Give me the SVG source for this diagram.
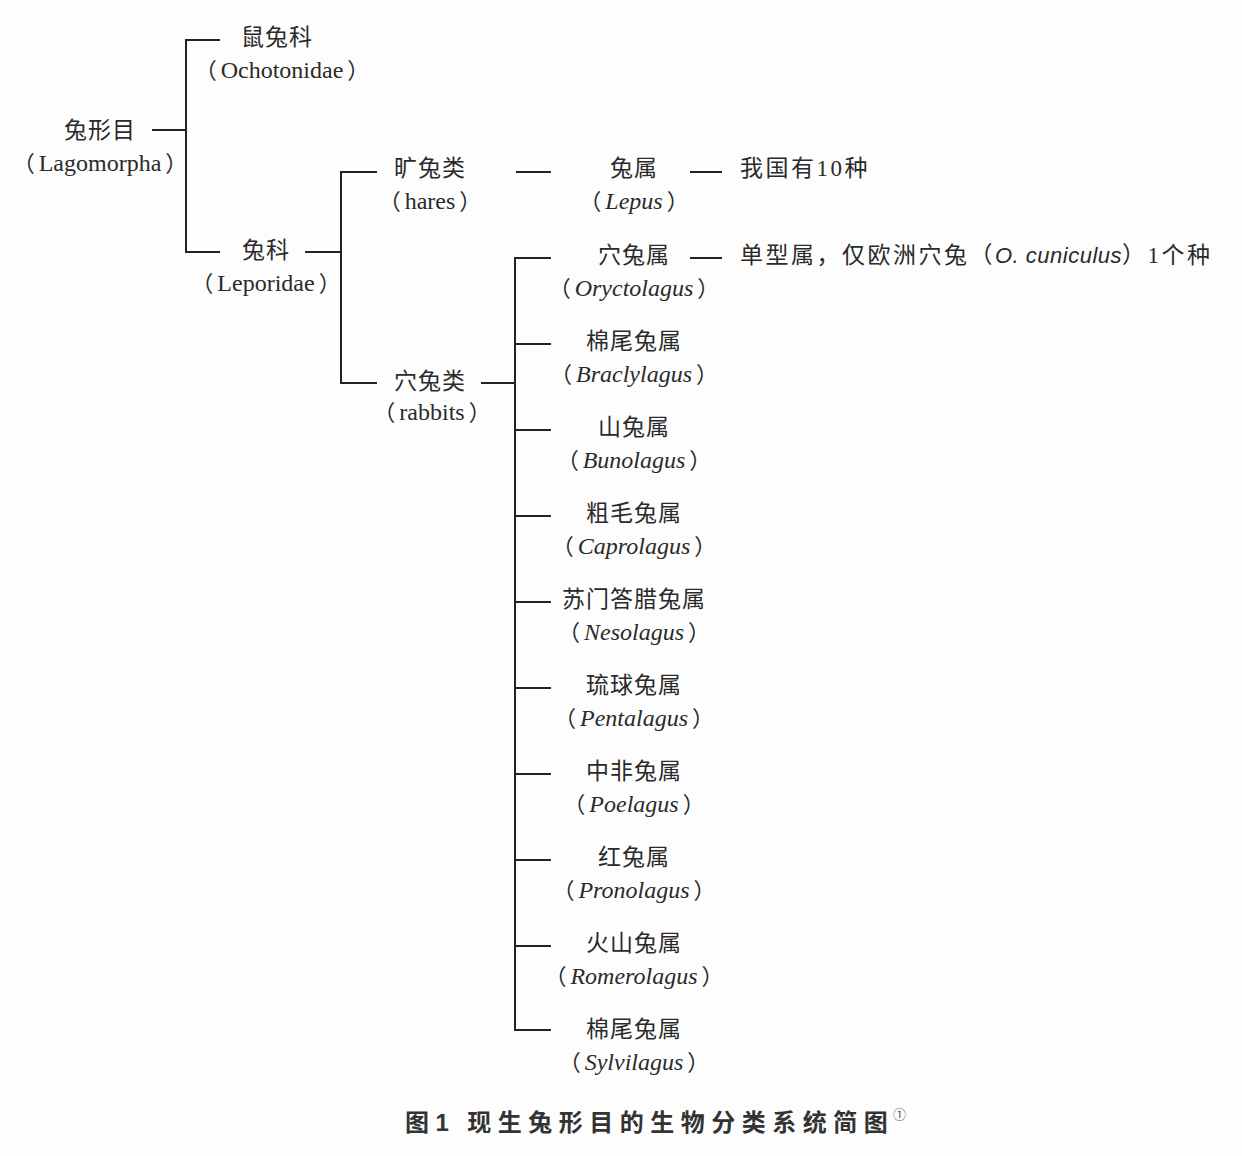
<svg xmlns="http://www.w3.org/2000/svg" width="1242" height="1156" viewBox="0 0 1242 1156">
<style>
text{text-spacing-trim:space-all}
.zh{font-family:"Noto Sans CJK SC","Noto Sans",sans-serif;font-size:23px;fill:#2a2a2a;text-anchor:middle;letter-spacing:1px}
.la{font-family:"Liberation Serif","Noto Sans CJK SC",serif;font-size:24px;fill:#2a2a2a;text-anchor:middle}
.p{font-family:"Noto Sans CJK SC",sans-serif;font-size:22px}
.it{font-style:italic}
.note{font-family:"Noto Sans CJK SC",sans-serif;font-size:23px;fill:#2a2a2a;letter-spacing:2.5px}
.cap{font-family:"Noto Sans CJK SC","Noto Sans",sans-serif;font-size:24px;font-weight:bold;fill:#333;letter-spacing:6.5px}
.ln{stroke:#222;stroke-width:2;fill:none}
</style>
<rect width="1242" height="1156" fill="#fdfdfd"/>
<g id="connectors">
<path class="ln" d="M152 130H186M220 40H186V252H220"/>
<path class="ln" d="M305 252H341M377 172H341V383H377"/>
<path class="ln" d="M516 172H551M690 172H722"/>
<path class="ln" d="M481 383H515M551 258H515V1030H551"/>
<path class="ln" d="M515 344H551M515 430H551M515 516H551M515 602H551M515 688H551M515 774H551M515 860H551M515 946H551"/>
<path class="ln" d="M690 258H722"/>
</g>
<g id="order"><text class="zh" x="100" y="138">兔形目</text><text class="la" x="100" y="171"><tspan class="p">（</tspan><tspan dx="4">Lagomorpha</tspan><tspan class="p" dx="4">）</tspan></text></g>
<g id="ochotonidae"><text class="zh" x="277" y="45">鼠兔科</text><text class="la" x="282" y="78"><tspan class="p">（</tspan><tspan dx="4">Ochotonidae</tspan><tspan class="p" dx="4">）</tspan></text></g>
<g id="leporidae"><text class="zh" x="266" y="258">兔科</text><text class="la" x="266" y="291"><tspan class="p">（</tspan><tspan dx="4">Leporidae</tspan><tspan class="p" dx="4">）</tspan></text></g>
<g id="hares"><text class="zh" x="430" y="176">旷兔类</text><text class="la" x="430" y="209"><tspan class="p">（</tspan><tspan dx="4">hares</tspan><tspan class="p" dx="4">）</tspan></text></g>
<g id="rabbits"><text class="zh" x="430" y="389">穴兔类</text><text class="la" x="432" y="420"><tspan class="p">（</tspan><tspan dx="4">rabbits</tspan><tspan class="p" dx="4">）</tspan></text></g>
<g id="lepus"><text class="zh" x="634" y="176">兔属</text><text class="la" x="634" y="209"><tspan class="p">（</tspan><tspan class="it" dx="4">Lepus</tspan><tspan class="p" dx="4">）</tspan></text></g>
<g id="lepus-note"><text class="note" x="740" y="176">我国有<tspan font-family="Liberation Serif" font-size="23">10</tspan>种</text></g>
<g id="oryctolagus"><text class="zh" x="634" y="263">穴兔属</text><text class="la" x="634" y="296"><tspan class="p">（</tspan><tspan class="it" dx="4">Oryctolagus</tspan><tspan class="p" dx="4">）</tspan></text></g>
<g id="oryctolagus-note"><text class="note" x="740" y="263">单型属，仅欧洲穴兔（<tspan font-family="Liberation Sans" font-style="italic" font-size="22" letter-spacing="0.5">O. cuniculus</tspan>）<tspan font-family="Liberation Serif" font-size="23">1</tspan>个种</text></g>
<g id="brachylagus"><text class="zh" x="634" y="349">棉尾兔属</text><text class="la" x="634" y="382"><tspan class="p">（</tspan><tspan class="it" dx="4">Braclylagus</tspan><tspan class="p" dx="4">）</tspan></text></g>
<g id="bunolagus"><text class="zh" x="634" y="435">山兔属</text><text class="la" x="634" y="468"><tspan class="p">（</tspan><tspan class="it" dx="4">Bunolagus</tspan><tspan class="p" dx="4">）</tspan></text></g>
<g id="caprolagus"><text class="zh" x="634" y="521">粗毛兔属</text><text class="la" x="634" y="554"><tspan class="p">（</tspan><tspan class="it" dx="4">Caprolagus</tspan><tspan class="p" dx="4">）</tspan></text></g>
<g id="nesolagus"><text class="zh" x="634" y="607">苏门答腊兔属</text><text class="la" x="634" y="640"><tspan class="p">（</tspan><tspan class="it" dx="4">Nesolagus</tspan><tspan class="p" dx="4">）</tspan></text></g>
<g id="pentalagus"><text class="zh" x="634" y="693">琉球兔属</text><text class="la" x="634" y="726"><tspan class="p">（</tspan><tspan class="it" dx="4">Pentalagus</tspan><tspan class="p" dx="4">）</tspan></text></g>
<g id="poelagus"><text class="zh" x="634" y="779">中非兔属</text><text class="la" x="634" y="812"><tspan class="p">（</tspan><tspan class="it" dx="4">Poelagus</tspan><tspan class="p" dx="4">）</tspan></text></g>
<g id="pronolagus"><text class="zh" x="634" y="865">红兔属</text><text class="la" x="634" y="898"><tspan class="p">（</tspan><tspan class="it" dx="4">Pronolagus</tspan><tspan class="p" dx="4">）</tspan></text></g>
<g id="romerolagus"><text class="zh" x="634" y="951">火山兔属</text><text class="la" x="634" y="984"><tspan class="p">（</tspan><tspan class="it" dx="4">Romerolagus</tspan><tspan class="p" dx="4">）</tspan></text></g>
<g id="sylvilagus"><text class="zh" x="634" y="1037">棉尾兔属</text><text class="la" x="634" y="1070"><tspan class="p">（</tspan><tspan class="it" dx="4">Sylvilagus</tspan><tspan class="p" dx="4">）</tspan></text></g>
<g id="caption"><text class="cap" x="405" y="1131">图<tspan font-family="Liberation Sans">1</tspan> 现生兔形目的生物分类系统简图</text><text x="893" y="1119" font-family="Noto Sans CJK SC,sans-serif" font-size="13" fill="#555">①</text></g>
</svg>
